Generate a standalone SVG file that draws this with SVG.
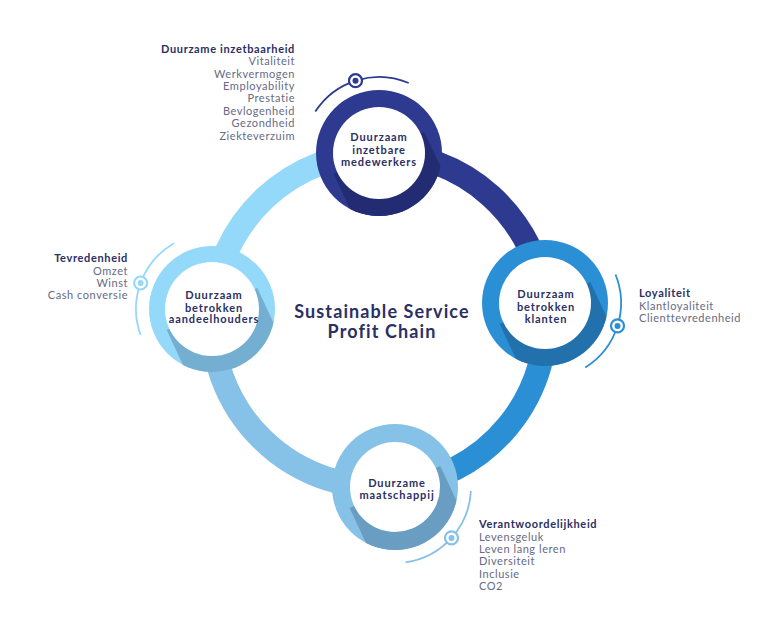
<svg xmlns="http://www.w3.org/2000/svg" width="780" height="624" viewBox="0 0 780 624">
<style>
.band{fill:none;stroke-width:24}
.deco{fill:none;stroke-width:1.8}
.mk{fill:#fff;stroke-width:2.2}
.nl{font-family:Lato,"Open Sans",sans-serif;font-weight:700;font-size:11px;fill:#2b2f63;text-anchor:middle;letter-spacing:0.9px}
.ht{font-family:Lato,"Open Sans",sans-serif;font-weight:700;font-size:11px;fill:#2b2f63;letter-spacing:0.65px}
.bt{font-family:Lato,"Open Sans",sans-serif;font-weight:400;font-size:11px;fill:#666a86;letter-spacing:0.55px}
.ct{font-family:Lato,"Open Sans",sans-serif;font-weight:700;font-size:18px;fill:#2b2f63;text-anchor:middle;letter-spacing:1.1px}
.r{text-anchor:end}
</style>
<defs>
<clipPath id="outer"><circle cx="0" cy="0" r="63"/></clipPath>
</defs>
<rect width="780" height="624" fill="#fff"/>
<g id="connectors">
<path class="band" stroke="#2e3a8f" d="M379,153 A167,167 0 0 1 545.1,302.8"/>
<path class="band" stroke="#2b8fd6" d="M545.1,302.8 A167,167 0 0 1 394.7,486.3"/>
<path class="band" stroke="#86c1e7" d="M394.7,486.3 A167,167 0 0 1 212.4,308.9"/>
<path class="band" stroke="#94d9f9" d="M212.4,308.9 A167,167 0 0 1 379,153"/>
</g>
<g id="node-top">
<path class="deco" stroke="#2e3a8f" d="M315.3,111.6 A76,76 0 0 1 408.7,83"/>
<circle class="mk" stroke="#2e3a8f" cx="355.5" cy="80.7" r="6.5"/>
<circle fill="#2e3a8f" cx="355.5" cy="80.7" r="3"/>
<g transform="translate(379,153)">
<circle r="63" fill="#2e3a8f"/>
<polygon clip-path="url(#outer)" fill="#232c72" points="45.3,-21.1 83.3,60.5 -7.3,102.7 -45.3,21.1"/>
<circle r="46" fill="#fff"/>
</g>
<text class="nl" x="379" y="141">Duurzaam</text>
<text class="nl" x="379" y="153.5">inzetbare</text>
<text class="nl" x="379" y="166">medewerkers</text>
<text class="ht r" x="295" y="52.5">Duurzame inzetbaarheid</text>
<text class="bt r" x="295" y="65">Vitaliteit</text>
<text class="bt r" x="295" y="77.5">Werkvermogen</text>
<text class="bt r" x="295" y="90">Employability</text>
<text class="bt r" x="295" y="102">Prestatie</text>
<text class="bt r" x="295" y="114.5">Bevlogenheid</text>
<text class="bt r" x="295" y="127">Gezondheid</text>
<text class="bt r" x="295" y="139.5">Ziekteverzuim</text>
</g>
<g id="node-right">
<path class="deco" stroke="#2b8fd6" d="M615.5,274.5 A76,76 0 0 1 585.3,367.4"/>
<circle class="mk" stroke="#2b8fd6" cx="617.5" cy="325.9" r="6.5"/>
<circle fill="#2b8fd6" cx="617.5" cy="325.9" r="3"/>
<g transform="translate(545,303)">
<circle r="63" fill="#2b8fd6"/>
<polygon clip-path="url(#outer)" fill="#2271ad" points="45.3,-21.1 83.3,60.5 -7.3,102.7 -45.3,21.1"/>
<circle r="46" fill="#fff"/>
</g>
<text class="nl" x="546" y="298">Duurzaam</text>
<text class="nl" x="546" y="310.5">betrokken</text>
<text class="nl" x="546" y="323">klanten</text>
<text class="ht" x="639" y="297">Loyaliteit</text>
<text class="bt" x="639" y="309.5">Klantloyaliteit</text>
<text class="bt" x="639" y="322">Clienttevredenheid</text>
</g>
<g id="node-bottom">
<path class="deco" stroke="#86c1e7" d="M470.9,491 A76,76 0 0 1 405.6,562.3"/>
<circle class="mk" stroke="#86c1e7" cx="451.5" cy="537.9" r="6.5"/>
<circle fill="#86c1e7" cx="451.5" cy="537.9" r="3"/>
<g transform="translate(395,487)">
<circle r="63" fill="#86c1e7"/>
<polygon clip-path="url(#outer)" fill="#6a9dc2" points="45.3,-21.1 83.3,60.5 -7.3,102.7 -45.3,21.1"/>
<circle r="45" fill="#fff"/>
</g>
<text class="nl" x="397" y="486.5">Duurzame</text>
<text class="nl" x="397" y="499">maatschappij</text>
<text class="ht" x="479" y="528">Verantwoordelijkheid</text>
<text class="bt" x="479" y="540.5">Levensgeluk</text>
<text class="bt" x="479" y="552.5">Leven lang leren</text>
<text class="bt" x="479" y="565">Diversiteit</text>
<text class="bt" x="479" y="577.5">Inclusie</text>
<text class="bt" x="479" y="589.5">CO2</text>
</g>
<g id="node-left">
<path class="deco" stroke="#94d9f9" d="M140.6,335 A76,76 0 0 1 174,243.2"/>
<circle class="mk" stroke="#94d9f9" cx="140.6" cy="283" r="6.5"/>
<circle fill="#94d9f9" cx="140.6" cy="283" r="3"/>
<g transform="translate(212,309)">
<circle r="63" fill="#94d9f9"/>
<polygon clip-path="url(#outer)" fill="#74aed0" points="45.3,-21.1 83.3,60.5 -7.3,102.7 -45.3,21.1"/>
<circle r="47" fill="#fff"/>
</g>
<text class="nl" x="214" y="299">Duurzaam</text>
<text class="nl" x="214" y="311.5">betrokken</text>
<text class="nl" x="214" y="323">aandeelhouders</text>
<text class="ht r" x="128" y="262">Tevredenheid</text>
<text class="bt r" x="128" y="274.5">Omzet</text>
<text class="bt r" x="128" y="286.5">Winst</text>
<text class="bt r" x="128" y="299">Cash conversie</text>
</g>
<g id="title">
<text class="ct" x="382" y="317.5">Sustainable Service</text>
<text class="ct" x="382" y="337.5">Profit Chain</text>
</g>
</svg>
